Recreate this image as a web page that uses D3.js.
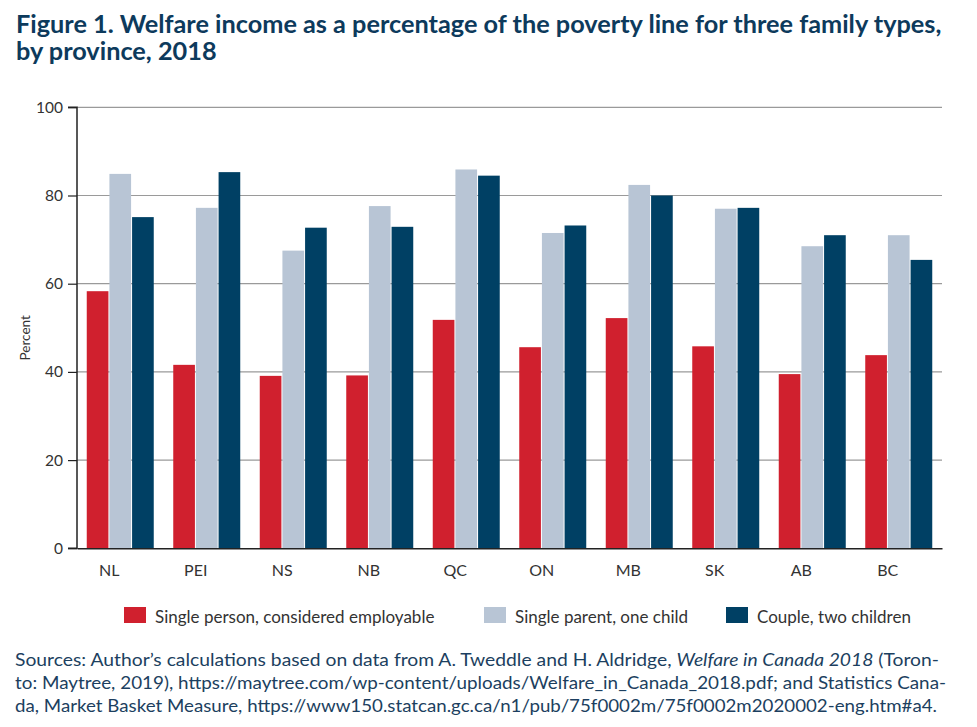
<!DOCTYPE html>
<html>
<head>
<meta charset="utf-8">
<script src="https://cdn.jsdelivr.net/npm/d3@7"></script>
<style>
  body { margin: 0; background: #fff; }
  svg { display: block; }
</style>
</head>
<body>
<svg id="chart" width="977" height="727"></svg>
<script>
const provinces = ["NL", "PEI", "NS", "NB", "QC", "ON", "MB", "SK", "AB", "BC"];
const seriesNames = ["Single person, considered employable", "Single parent, one child", "Couple, two children"];
const singlePerson = [58.3, 41.6, 39.1, 39.2, 51.8, 45.6, 52.2, 45.8, 39.5, 43.8];
const singleParent = [84.9, 77.2, 67.5, 77.6, 85.9, 71.5, 82.4, 77.0, 68.5, 71.0];
const couple = [75.1, 85.3, 72.7, 72.9, 84.5, 73.2, 80.0, 77.2, 71.0, 65.4];
const yTicks = [0, 20, 40, 60, 80, 100];
const colors = ["#D0202E", "#B8C5D5", "#004064"];

(function () {
const series = [singlePerson, singleParent, couple];
const svg = d3.select("#chart");
const FONT = "Lato, 'Open Sans', sans-serif";

// Title
const titleColor = "#0d3a5c";
const t1 = svg.append("text").attr("x", 16).attr("y", 33)
  .attr("font-family", FONT).attr("font-weight", 700).attr("font-size", 22)
  .attr("fill", titleColor)
  .text("Figure 1. Welfare income as a percentage of the poverty line for three family types,");
const target1 = 942 - 16;
const fs = 22 * target1 / t1.node().getComputedTextLength();
t1.attr("font-size", fs);
svg.append("text").attr("x", 16).attr("y", 60)
  .attr("font-family", FONT).attr("font-weight", 700).attr("font-size", fs)
  .attr("fill", titleColor).text("by province, 2018");

// Plot geometry
const pLeft = 77, pRight = 942, pTop = 107.3, pBottom = 548.3;
const y = d3.scaleLinear().domain([0, 100]).range([pBottom, pTop]);
const x0 = d3.scaleBand().domain(provinces).range([pLeft, pRight]).padding(0);
const groupW = 68;
const x1 = d3.scaleBand().domain(d3.range(3)).range([0, groupW]).padding(0);

// gridlines
svg.append("g").selectAll("line").data(yTicks.filter(d => d > 0)).join("line")
  .attr("x1", pLeft).attr("x2", pRight)
  .attr("y1", d => y(d)).attr("y2", d => y(d))
  .attr("stroke", "#9a9a9a").attr("stroke-width", 1.2);

// bars
const gBars = svg.append("g");
provinces.forEach((p, i) => {
  const gx0 = x0(p) + (x0.bandwidth() - groupW) / 2;
  series.forEach((s, j) => {
    gBars.append("rect")
      .attr("x", gx0 + x1(j) + 0.5)
      .attr("width", x1.bandwidth() - 1)
      .attr("y", y(s[i]))
      .attr("height", y(0) - y(s[i]))
      .attr("fill", colors[j]);
  });
});

// y axis
const yAxis = d3.axisLeft(y).tickValues(yTicks).tickSize(9).tickPadding(5);
const gy = svg.append("g").attr("transform", `translate(${pLeft},0)`).call(yAxis);
gy.select(".domain").attr("stroke", "#222").attr("stroke-width", 1.5).attr("d", `M-9,${pTop}H0V${pBottom}H-9`);
gy.selectAll(".tick line").attr("stroke", "#222").attr("stroke-width", 1.2);
gy.selectAll(".tick text").attr("font-family", FONT).attr("font-size", 15.5).attr("fill", "#333");

// x axis
const xAxis = d3.axisBottom(x0).tickSize(0).tickPadding(16);
const gxa = svg.append("g").attr("transform", `translate(0,${pBottom})`).call(xAxis);
gxa.select(".domain").attr("stroke", "#222").attr("stroke-width", 1.5);
gxa.selectAll(".tick text").attr("font-family", FONT).attr("font-size", 16).attr("fill", "#333")
  .attr("dx", -11);

// y title
svg.append("text")
  .attr("transform", `translate(30,${(pTop + pBottom) / 2 + 10}) rotate(-90)`)
  .attr("text-anchor", "middle")
  .attr("font-family", FONT).attr("font-size", 13.5).attr("fill", "#333")
  .text("Percent");

// legend
const legendX = [124, 484, 726];
const lg = svg.append("g");
seriesNames.forEach((n, j) => {
  lg.append("rect").attr("x", legendX[j]).attr("y", 607).attr("width", 22).attr("height", 16).attr("fill", colors[j]);
  lg.append("text").attr("x", legendX[j] + 31).attr("y", 623)
    .attr("font-family", FONT).attr("font-size", 17).attr("fill", "#333").text(n);
});

// sources
const srcColor = "#1c3f60";
const srcLines = [
  [["Sources: Author’s calculations based on data from A. Tweddle and H. Aldridge, ", false], ["Welfare in Canada 2018", true], [" (Toron-", false]],
  [["to: Maytree, 2019), https://maytree.com/wp-content/uploads/Welfare_in_Canada_2018.pdf; and Statistics Cana-", false]],
  [["da, Market Basket Measure, https://www150.statcan.gc.ca/n1/pub/75f0002m/75f0002m2020002-eng.htm#a4.", false]]
];
const srcEnds = [939, 946, 937];
srcLines.forEach((parts, i) => {
  const t = svg.append("text").attr("x", 15).attr("y", 666 + i * 23)
    .attr("font-family", FONT).attr("font-size", 16.5).attr("fill", srcColor);
  parts.forEach(([txt, it]) => {
    const ts = t.append("tspan").text(txt);
    if (it) ts.attr("font-style", "italic");
  });
  t.attr("textLength", srcEnds[i] - 15).attr("lengthAdjust", "spacingAndGlyphs");
});
})();
</script>
</body>
</html>
